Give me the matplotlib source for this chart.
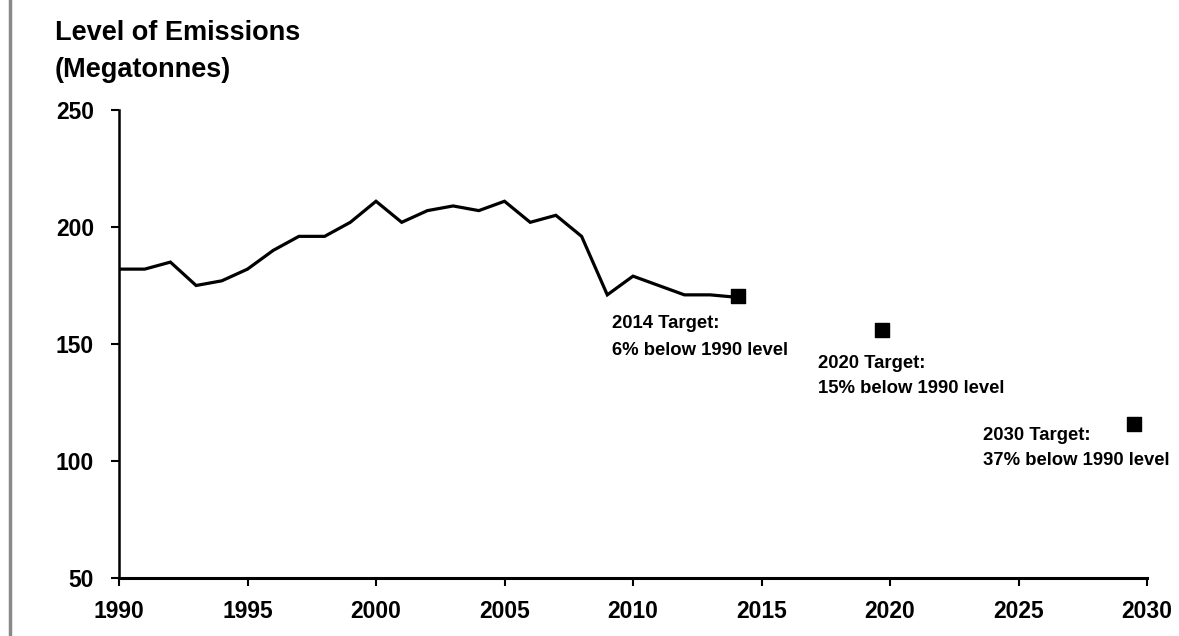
import matplotlib
matplotlib.use("Agg")
import matplotlib.pyplot as plt
from matplotlib.lines import Line2D

plt.rcParams['font.family'] = ['Liberation Sans', 'DejaVu Sans']
plt.rcParams['font.weight'] = 'bold'

years = list(range(1990, 2015))
emissions = [182, 182, 185, 175, 177, 182, 190, 196, 196, 202, 211, 202, 207, 209, 207,
             211, 202, 205, 196, 171, 179, 175, 171, 171, 170]

target_years = [2014.1, 2019.7, 2029.5]
target_values = [170.4, 156, 115.7]
target_titles = ["2014 Target:", "2020 Target:", "2030 Target:"]
target_notes = ["6% below 1990 level", "15% below 1990 level", "37% below 1990 level"]
# label anchor positions (x, baseline of line 1, baseline of line 2) in data units
label_x = [2009.2, 2017.2, 2023.6]
label_y1 = [156.8, 139.7, 109.0]
label_y2 = [145.3, 129.1, 98.3]

x_ticks = [1990, 1995, 2000, 2005, 2010, 2015, 2020, 2025, 2030]
y_ticks = [50, 100, 150, 200, 250]

fig = plt.figure(figsize=(11.79, 6.36), dpi=100)
ax = fig.add_axes([119/1179, 1 - 578/636, (1147 - 119)/1179, (578 - 110)/636])

ax.plot(years, emissions, color='black', lw=2.3, solid_joinstyle='miter')
ax.scatter(target_years, target_values, marker='s', s=105, color='black', zorder=3)

for tx, y1, y2, t1, t2 in zip(label_x, label_y1, label_y2, target_titles, target_notes):
    ax.text(tx, y1, t1, fontsize=13.3, fontweight='bold', ha='left', va='baseline')
    ax.text(tx, y2, t2, fontsize=13.3, fontweight='bold', ha='left', va='baseline')

ax.set_xlim(1990, 2030)
ax.set_ylim(50, 250)
ax.set_xticks(x_ticks)
ax.set_yticks(y_ticks)
ax.tick_params(axis='both', labelsize=16.5, width=1.5, length=6, direction='out')
ax.tick_params(axis='y', pad=12)
ax.tick_params(axis='x', pad=10)
for lab in ax.get_xticklabels() + ax.get_yticklabels():
    lab.set_fontweight('bold')

for s in ['top', 'right']:
    ax.spines[s].set_visible(False)
ax.spines['left'].set_linewidth(1.8)
ax.spines['bottom'].set_linewidth(2.2)

fig.text(55/1179, 1 - 40/636, "Level of Emissions", fontsize=19.5,
         fontweight='bold', ha='left', va='baseline')
fig.text(55/1179, 1 - 77/636, "(Megatonnes)", fontsize=19.5,
         fontweight='bold', ha='left', va='baseline')

fig.add_artist(Line2D([10/1179, 10/1179], [0, 1], transform=fig.transFigure,
                      color='#888888', lw=2.5))

fig.savefig("out.png", dpi=100)
